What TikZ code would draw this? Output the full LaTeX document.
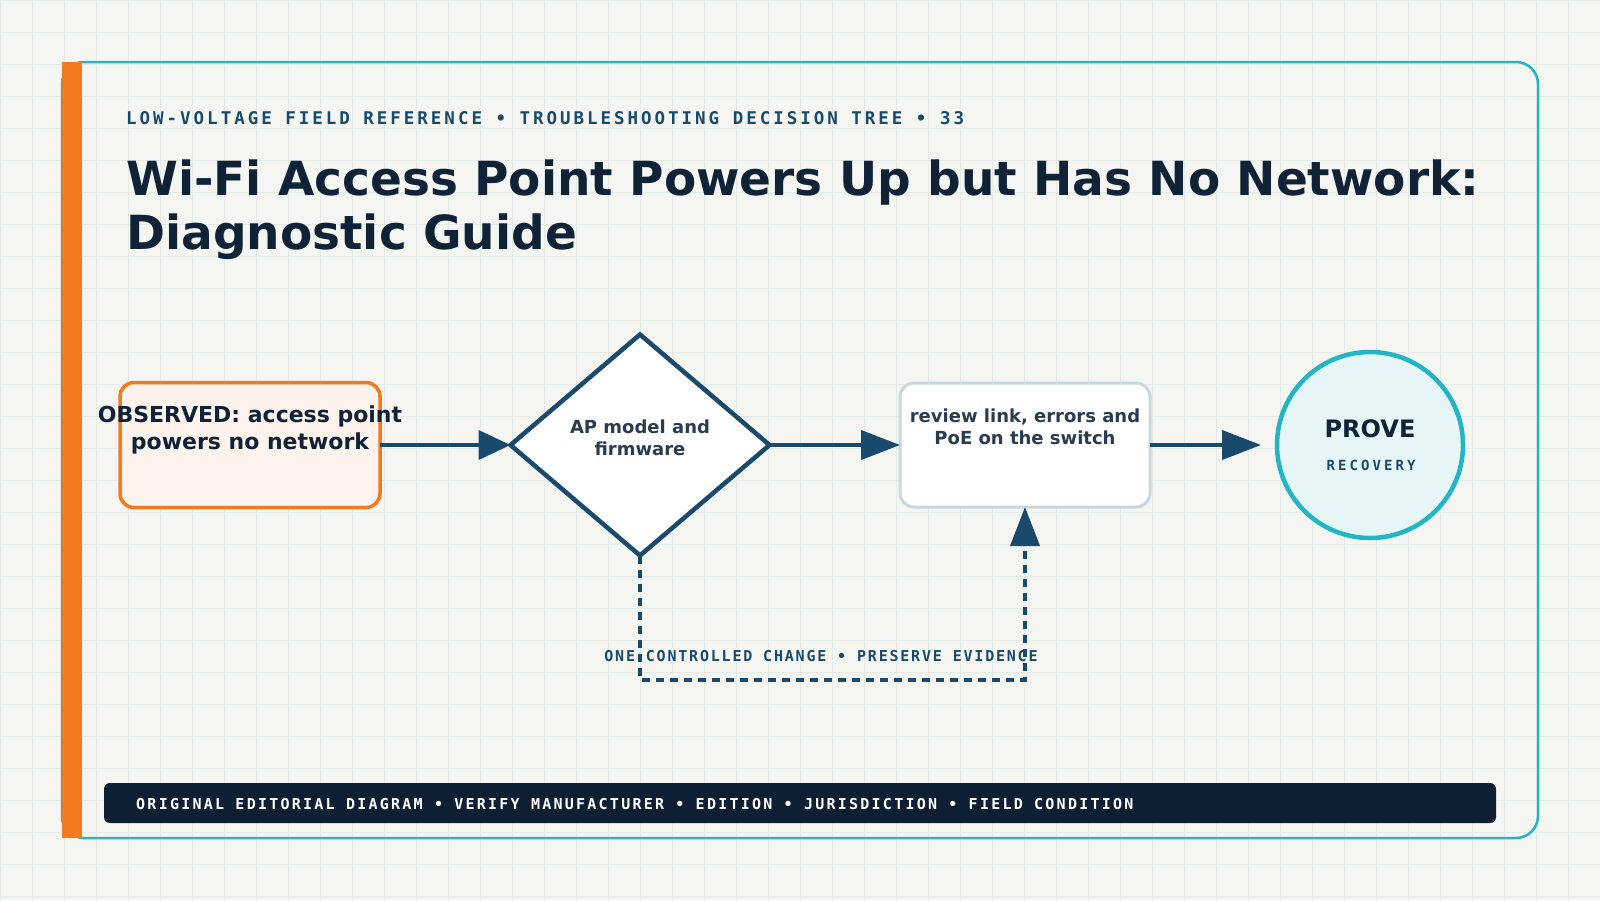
\documentclass[tikz,border=0pt]{standalone}
\usepackage{fontspec}
\setmainfont{DejaVu Sans}
\newfontfamily\kickerfont[LetterSpace=17]{DejaVu Sans Mono}
\newfontfamily\notefont[LetterSpace=12]{DejaVu Sans Mono}
\newfontfamily\footfont[LetterSpace=15]{DejaVu Sans Mono}
\newfontfamily\tagfont[LetterSpace=22]{DejaVu Sans Mono}
\usepackage{tikz}
\usetikzlibrary{arrows.meta, positioning, shapes.geometric}
\usepackage{xcolor}

\definecolor{paper}{HTML}{F5F6F2}
\definecolor{gridline}{HTML}{E4EAE5}
\definecolor{ink}{HTML}{0F2236}
\definecolor{steel}{HTML}{1A4A6B}
\definecolor{slate}{HTML}{2A3C50}
\definecolor{rim}{HTML}{22B5C4}
\definecolor{flame}{HTML}{F47920}
\definecolor{peach}{HTML}{FDF3EC}
\definecolor{mist}{HTML}{E6F6F7}
\definecolor{haze}{HTML}{C8D8DD}
\definecolor{night}{HTML}{0E1F33}

\begin{document}
\begin{tikzpicture}[
  x=1pt, y=-1pt,
  obsbox/.style={draw=flame, line width=3.5pt, rounded corners=14pt, fill=peach,
                 minimum width=260pt, minimum height=125pt, outer sep=0pt},
  decide/.style={diamond, draw=steel, line width=4.5pt, fill=white, inner sep=0pt,
                 minimum width=259pt, minimum height=221pt, outer sep=0pt},
  actbox/.style={draw=haze, line width=3pt, rounded corners=14pt, fill=white,
                 minimum width=250pt, minimum height=124pt, outer sep=0pt},
  goal/.style={circle, draw=rim, line width=4.5pt, fill=mist, minimum size=186pt,
               inner sep=0pt, outer sep=0pt},
  boxtext/.style={align=center, inner sep=0pt, text=slate,
                  font=\fontsize{18}{22.5}\selectfont\bfseries},
  flow/.style={draw=steel, line width=4pt, -{Triangle[length=39pt, width=29pt]}},
  retry/.style={draw=steel, line width=4pt, dash pattern=on 8pt off 6pt,
                -{Triangle[length=39pt, width=29pt]}},
  >=Stealth
]
  % Page and grid
  \useasboundingbox (0,0) rectangle (1600,900);
  \fill[paper] (0,0) rectangle (1600,900);
  \draw[gridline, line width=0.8pt, step=32pt] (0,0) grid (1600,900);

  % Frame
  \draw[rim, line width=2.5pt, rounded corners=22pt] (62,62) rectangle (1538,838);
  \fill[flame] (62,62) rectangle (82,838);

  % Heading
  \node[anchor=base west, inner sep=0pt, text=steel,
        font=\kickerfont\bfseries\fontsize{17.5}{20}\selectfont] (kicker) at (126,124)
    {LOW-VOLTAGE FIELD REFERENCE • TROUBLESHOOTING DECISION TREE • 33};
  \node[anchor=north west, inner sep=0pt, text=ink, align=left,
        font=\fontsize{47}{54}\selectfont\bfseries] (title) at (126,160)
    {Wi-Fi Access Point Powers Up but Has No Network:\\Diagnostic Guide};

  % Flow
  \node[obsbox] (obs) at (250,445) {};
  \node[align=center, inner sep=0pt, text=ink,
        font=\fontsize{22}{26.5}\selectfont\bfseries] (obs-txt) at (250,430)
    {OBSERVED: access point\\powers no network};
  \node[decide] (fw) at (640,445) {};
  \node[boxtext] (fw-txt) at (640,438) {AP model and\\firmware};
  \node[actbox] (rev) at (1025,445) {};
  \node[boxtext] (rev-txt) at (1025,427) {review link, errors and\\PoE on the switch};
  \node[goal] (prove) at (1370,445) {};
  \node[anchor=base, inner sep=0pt, text=ink,
        font=\fontsize{24}{28}\selectfont\bfseries] (prove-txt) at (1370,437) {PROVE};
  \node[anchor=base, inner sep=0pt, text=steel,
        font=\tagfont\bfseries\fontsize{14}{16}\selectfont] (prove-tag) at (1371,470) {RECOVERY};

  % Edges
  \draw[flow, -{Triangle[length=32pt, width=29pt]}] (obs.east) -- (fw.west);
  \draw[flow] (fw.east) -- (rev.west);
  \draw[flow, shorten >=16pt] (rev.east) -- (prove.west);
  \draw[retry] (fw.south) -- ++(0,124) -| (rev.south);
  \node[anchor=base, inner sep=0pt, text=steel,
        font=\notefont\bfseries\fontsize{15}{17}\selectfont] (retry-lbl) at (821,661)
    {ONE CONTROLLED CHANGE • PRESERVE EVIDENCE};

  % Footer
  \node[fill=night, rounded corners=6pt, minimum width=1392pt, minimum height=40pt,
        inner sep=0pt] (foot) at (800,803) {};
  \node[anchor=base west, inner sep=0pt, text=white,
        font=\footfont\bfseries\fontsize{15}{17}\selectfont] (foot-txt) at (136,809)
    {ORIGINAL EDITORIAL DIAGRAM • VERIFY MANUFACTURER • EDITION • JURISDICTION • FIELD CONDITION};
\end{tikzpicture}
\end{document}
